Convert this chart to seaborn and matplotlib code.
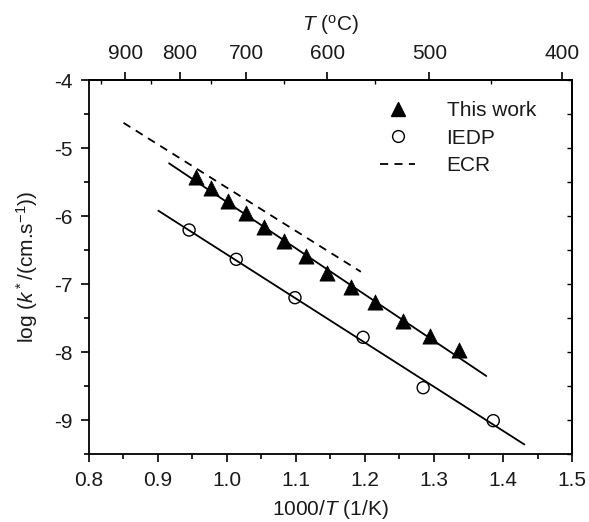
import numpy as np
import pandas as pd
import matplotlib
matplotlib.use("Agg")
import matplotlib.pyplot as plt
from matplotlib.lines import Line2D
from matplotlib.ticker import MultipleLocator, FixedLocator, NullFormatter
import seaborn as sns

# ---- data ----
tw_x = [0.955, 0.9775, 1.0017, 1.0274, 1.054, 1.0826, 1.1139, 1.1454, 1.1792, 1.2147, 1.2547, 1.2939, 1.3366]
tw_y = [-5.43, -5.584, -5.779, -5.96, -6.166, -6.368, -6.584, -6.834, -7.044, -7.265, -7.54, -7.765, -7.971]
iedp_x = [0.9451, 1.0134, 1.0985, 1.1972, 1.2843, 1.3859]
iedp_y = [-6.206, -6.637, -7.201, -7.784, -8.525, -9.01]
tw_fit_x = [0.916, 1.3758]
tw_fit_y = [-5.225, -8.353]
iedp_fit_x = [0.9005, 1.431]
iedp_fit_y = [-5.922, -9.36]
ecr_x = [0.85, 1.194]
ecr_y = [-4.63, -6.82]
top_ticks_C = [900, 800, 700, 600, 500, 400]
top_minor_C = [950, 850, 750, 650, 550, 450]
x_ticks = [0.8, 0.9, 1.0, 1.1, 1.2, 1.3, 1.4, 1.5]
y_ticks = [-9, -8, -7, -6, -5, -4]

sns.set_theme(style="ticks")
plt.rcParams["font.family"] = ["Liberation Sans", "DejaVu Sans"]
plt.rcParams["mathtext.fontset"] = "custom"
plt.rcParams["mathtext.rm"] = "Liberation Sans"
plt.rcParams["mathtext.it"] = "Liberation Sans:italic"
plt.rcParams["mathtext.bf"] = "Liberation Sans:bold"
for k in ["text.color", "axes.labelcolor", "xtick.color", "ytick.color",
          "xtick.labelcolor", "ytick.labelcolor", "axes.edgecolor"]:
    plt.rcParams[k] = "#1a1a1a" if "label" in k or k == "text.color" else "black"

FS = 15
fig = plt.figure(figsize=(5.89, 5.22), dpi=100)
ax = fig.add_axes([89/589, 1-454/522, (572-89)/589, (454-80)/522])

df_tw = pd.DataFrame({"x": tw_x, "y": tw_y})
df_ie = pd.DataFrame({"x": iedp_x, "y": iedp_y})
sns.lineplot(x=tw_fit_x, y=tw_fit_y, ax=ax, color="black", lw=1.3)
sns.lineplot(x=iedp_fit_x, y=iedp_fit_y, ax=ax, color="black", lw=1.3)
sns.lineplot(x=ecr_x, y=ecr_y, ax=ax, color="black", lw=1.3, linestyle=(0, (4.5, 3.5)))
sns.scatterplot(data=df_tw, x="x", y="y", ax=ax, marker="^", s=120, color="black",
                edgecolor="black", linewidth=0.5, zorder=3)
sns.scatterplot(data=df_ie, x="x", y="y", ax=ax, marker="o", s=75, facecolor="none",
                edgecolor="black", linewidth=1.0, zorder=3)

ax.set_xlim(0.8, 1.5)
ax.set_ylim(-9.5, -4)
ax.set_xticks(x_ticks)
ax.set_xticklabels([f"{v:.1f}" for v in x_ticks])
ax.set_yticks(y_ticks)
ax.set_yticklabels([str(v) for v in y_ticks])
ax.xaxis.set_minor_locator(MultipleLocator(0.05))
ax.yaxis.set_minor_locator(MultipleLocator(0.5))
ax.tick_params(axis="both", which="major", direction="out", length=6, width=1.2,
               labelsize=FS, color="black", labelcolor="#1a1a1a", pad=6)
ax.tick_params(axis="both", which="minor", direction="out", length=3.5, width=1.2, color="black")
for s in ax.spines.values():
    s.set_linewidth(1.3)
    s.set_color("black")
    s.set_visible(True)

ax.set_xlabel(r"1000/$T$ (1/K)", fontsize=FS, labelpad=6, color="#1a1a1a")
ax.set_ylabel(r"log ($k^*$/(cm.s$^{-1}$))", fontsize=FS, labelpad=10, color="#1a1a1a")

# right axis: inward ticks, no labels
sec_r = ax.secondary_yaxis("right")
sec_r.yaxis.set_major_locator(MultipleLocator(0.5))
sec_r.yaxis.set_major_formatter(NullFormatter())
sec_r.tick_params(direction="in", length=3.5, width=1.0, color="black")
sec_r.spines["right"].set_color("black")

# top axis: T in Celsius
def inv2c(x):
    x = np.asarray(x, dtype=float)
    with np.errstate(divide="ignore"):
        return 1000.0 / x - 273.15
def c2inv(t):
    t = np.asarray(t, dtype=float)
    with np.errstate(divide="ignore"):
        return 1000.0 / (t + 273.15)
sec_t = ax.secondary_xaxis("top", functions=(inv2c, c2inv))
sec_t.xaxis.set_major_locator(FixedLocator(top_ticks_C))
sec_t.xaxis.set_minor_locator(FixedLocator(top_minor_C))
sec_t.tick_params(which="major", direction="out", length=6, width=1.2, labelsize=FS, pad=6,
                  color="black", labelcolor="#1a1a1a")
sec_t.tick_params(which="minor", direction="in", length=3, width=1.0, color="black")
sec_t.spines["top"].set_color("black")
sec_t.set_xlabel(r"$T$ ($^{\rm o}$C)", fontsize=FS, labelpad=10, color="#1a1a1a")

handles = [
    Line2D([], [], marker="^", color="black", linestyle="none", markersize=10),
    Line2D([], [], marker="o", markerfacecolor="none", markeredgecolor="black",
           linestyle="none", markersize=8.5, markeredgewidth=1.0),
    Line2D([], [], color="black", lw=1.3, linestyle=(0, (4.5, 3.5))),
]
leg = ax.legend(handles, ["This work", "IEDP", "ECR"], loc="upper left",
                bbox_to_anchor=(0.585, 0.965), frameon=False, fontsize=FS,
                handlelength=1.7, handletextpad=1.5, labelspacing=0.4, borderaxespad=0)
for t in leg.get_texts():
    t.set_color("#1a1a1a")

fig.savefig("out.png", dpi=100)
